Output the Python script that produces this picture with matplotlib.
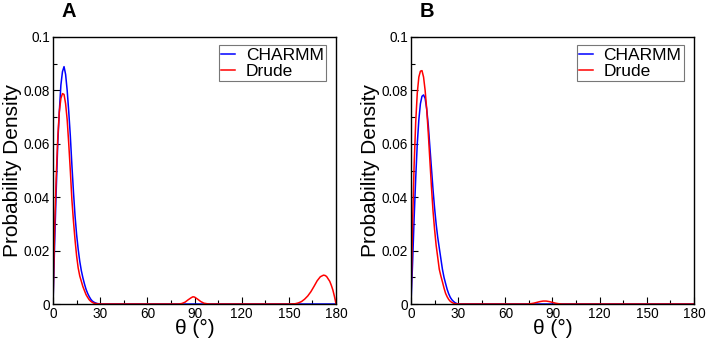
import matplotlib
matplotlib.use("Agg")
import matplotlib.pyplot as plt
from matplotlib.ticker import MultipleLocator

plt.rcParams['font.family'] = ['Liberation Sans', 'DejaVu Sans']

# panel A
theta_a_charmm = [0, 1, 2, 3, 4, 5, 6, 7, 8, 9, 10, 11, 12, 13, 14, 15, 16, 17, 18, 19,
                  20, 21, 22, 23, 24, 25, 26, 27, 28, 30, 180]
charmm_a = [0, 0.022, 0.042, 0.060, 0.072, 0.082, 0.087, 0.0889, 0.086, 0.080, 0.072,
            0.063, 0.052, 0.042, 0.033, 0.026, 0.0205, 0.016, 0.0125, 0.0098, 0.0075,
            0.0055, 0.004, 0.0028, 0.0018, 0.0011, 0.0007, 0.0004, 0.0002, 0, 0]

theta_a_drude = [0, 1, 2, 3, 4, 5, 6, 7, 8, 9, 10, 11, 12, 13, 14, 15, 16, 17, 18, 19,
                 20, 21, 22, 23, 24, 25, 26, 28, 30,
                 80, 82, 84, 86, 88, 89, 90, 92, 94, 96, 98, 100,
                 150, 154, 156, 158, 160, 162, 164, 166, 168, 170, 172, 173, 174, 176,
                 177, 178, 179, 180]
drude_a = [0, 0.028, 0.047, 0.062, 0.072, 0.077, 0.0788, 0.0785, 0.075, 0.069, 0.060,
           0.050, 0.039, 0.031, 0.024, 0.018, 0.0135, 0.0105, 0.0085, 0.0065, 0.005,
           0.0035, 0.0025, 0.0016, 0.001, 0.0006, 0.0003, 0.0001, 0,
           0, 0.0002, 0.0007, 0.0016, 0.0024, 0.0027, 0.0026, 0.0018, 0.0009, 0.0003,
           0.0001, 0,
           0, 0.0001, 0.0004, 0.0009, 0.0018, 0.003, 0.0046, 0.0066, 0.0087, 0.0102,
           0.0108, 0.0107, 0.0103, 0.0085, 0.007, 0.0052, 0.0028, 0]

# panel B
theta_b_charmm = [0, 1, 2, 3, 4, 5, 6, 7, 8, 9, 10, 11, 12, 13, 14, 15, 16, 17, 18, 19,
                  20, 21, 22, 23, 24, 25, 26, 27, 28, 29, 30, 180]
charmm_b = [0, 0.015, 0.032, 0.047, 0.060, 0.069, 0.075, 0.0778, 0.0783, 0.077, 0.073,
            0.067, 0.059, 0.051, 0.043, 0.036, 0.030, 0.025, 0.021, 0.017, 0.013,
            0.010, 0.0077, 0.0055, 0.0038, 0.0025, 0.0016, 0.001, 0.0005, 0.0002, 0, 0]

theta_b_drude = [0, 1, 2, 3, 4, 5, 6, 7, 8, 9, 10, 11, 12, 13, 14, 15, 16, 17, 18, 19,
                 20, 21, 22, 23, 24, 25, 26, 27, 28, 30,
                 74, 76, 78, 80, 82, 84, 86, 88, 90, 92, 94, 96, 180]
drude_b = [0, 0.03, 0.052, 0.068, 0.079, 0.085, 0.0872, 0.0874, 0.085, 0.080, 0.073,
           0.064, 0.054, 0.044, 0.035, 0.028, 0.022, 0.0175, 0.013, 0.0105, 0.0083,
           0.006, 0.004, 0.0027, 0.0017, 0.001, 0.0006, 0.0003, 0.0001, 0,
           0, 0.0001, 0.0003, 0.0006, 0.0009, 0.0011, 0.0011, 0.0009, 0.0006, 0.0003,
           0.0001, 0, 0]

panels = [
    ("A", theta_a_charmm, charmm_a, theta_a_drude, drude_a, 0.075),
    ("B", theta_b_charmm, charmm_b, theta_b_drude, drude_b, 0.5813),
]

fig = plt.figure(figsize=(7.07, 3.41), dpi=100)

for label, tc, yc, td, yd, left in panels:
    ax = fig.add_axes([left, 0.1085, 0.4003, 0.783])
    ax.plot(tc, yc, color='#0000ff', lw=1.1, label='CHARMM')
    ax.plot(td, yd, color='#ff0000', lw=1.1, label='Drude')
    ax.set_xlim(0, 180)
    ax.set_ylim(0, 0.1)
    ax.xaxis.set_major_locator(MultipleLocator(30))
    ax.xaxis.set_minor_locator(MultipleLocator(15))
    ax.yaxis.set_minor_locator(MultipleLocator(0.01))
    ax.set_yticks([0, 0.02, 0.04, 0.06, 0.08, 0.1])
    ax.set_yticklabels(['0', '0.02', '0.04', '0.06', '0.08', '0.1'])
    ax.tick_params(which='major', direction='in', length=5, width=0.8, labelsize=9.8, pad=2)
    ax.tick_params(which='minor', direction='in', length=3, width=0.8)
    for s in ax.spines.values():
        s.set_linewidth(1.0)
    ax.set_xlabel('θ (°)', fontsize=15, labelpad=-1)
    ax.set_ylabel('Probability Density', fontsize=15, labelpad=1)
    leg = ax.legend(loc='upper right', bbox_to_anchor=(0.965, 0.97), borderaxespad=0,
                    fontsize=12.5, handlelength=0.8, handletextpad=0.6,
                    borderpad=0.15, labelspacing=0.05, fancybox=False, framealpha=1)
    leg.get_frame().set_edgecolor('#777777')
    leg.get_frame().set_linewidth(0.8)
    ax.text(0.03, 1.06, label, transform=ax.transAxes, fontsize=14.5,
            fontweight='bold', ha='left', va='bottom')

fig.savefig('out.png', dpi=100)
